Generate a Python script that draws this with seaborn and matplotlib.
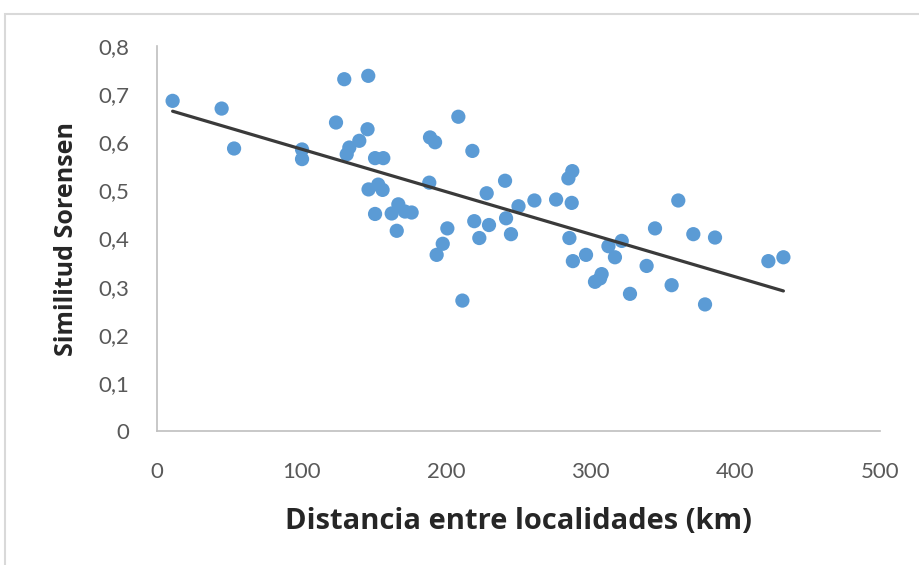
import matplotlib
matplotlib.use("Agg")
import matplotlib.pyplot as plt
import matplotlib.ticker as mticker
from matplotlib.patches import Rectangle
import seaborn as sns
import pandas as pd

distancia_km = [10.8, 44.7, 53.3, 100.3, 100.3, 123.8, 129.5, 131.2, 133.0, 139.9,
                145.6, 146.1, 146.3, 150.8, 156.5, 153.0, 156.0, 150.8, 162.3, 166.9,
                171.5, 176.1, 165.8, 188.3, 188.8, 192.3, 208.4, 218.1, 193.4, 197.6,
                200.8, 211.2, 219.4, 222.9, 229.6, 228.0, 240.7, 241.4, 244.8, 250.0,
                261.0, 276.0, 284.5, 287.2, 286.8, 285.2, 287.6, 296.7, 302.9, 306.4,
                307.5, 312.2, 321.4, 316.7, 327.1, 338.6, 344.4, 355.9, 360.5, 370.9,
                379.0, 385.9, 422.8, 433.2]
similitud = [0.686, 0.670, 0.587, 0.585, 0.565, 0.641, 0.731, 0.575, 0.589, 0.603,
             0.627, 0.738, 0.502, 0.567, 0.567, 0.512, 0.501, 0.451, 0.452, 0.471,
             0.456, 0.454, 0.416, 0.516, 0.610, 0.600, 0.653, 0.582, 0.366, 0.389,
             0.421, 0.271, 0.436, 0.401, 0.428, 0.494, 0.520, 0.442, 0.409, 0.467,
             0.479, 0.481, 0.525, 0.540, 0.474, 0.401, 0.353, 0.366, 0.310, 0.317,
             0.326, 0.384, 0.395, 0.361, 0.285, 0.343, 0.421, 0.303, 0.479, 0.409,
             0.263, 0.402, 0.353, 0.361]
x_ticks = [0, 100, 200, 300, 400, 500]
y_ticks = [0, 0.1, 0.2, 0.3, 0.4, 0.5, 0.6, 0.7, 0.8]
x_label = "Distancia entre localidades (km)"
y_label = "Similitud Sorensen"

df = pd.DataFrame({"d": distancia_km, "s": similitud})

sns.set_style("white")
plt.rcParams["font.family"] = ["Lato", "DejaVu Sans"]

fig = plt.figure(figsize=(9.19, 5.65), dpi=100)
ax = fig.add_axes([157/919, 1-431/565, (880-157)/919, (431-46)/565])

sns.scatterplot(data=df, x="d", y="s", ax=ax, color="#5B9BD5", s=105,
                edgecolor="none", linewidth=0, zorder=2)
sns.regplot(data=df, x="d", y="s", ax=ax, scatter=False, ci=None,
            line_kws={"color": "#3a3a3a", "lw": 2.3, "zorder": 3})

ax.set_xlim(0, 500)
ax.set_ylim(0, 0.8)
ax.set_xticks(x_ticks)
ax.set_yticks(y_ticks)
ax.yaxis.set_major_formatter(mticker.FuncFormatter(
    lambda v, p: "0" if abs(v) < 1e-9 else f"{v:.1f}".replace(".", ",")))
ax.tick_params(axis="both", length=0, labelsize=16, labelcolor="#595959")
ax.tick_params(axis="x", pad=22)
ax.tick_params(axis="y", pad=20)

for side in ["top", "right"]:
    ax.spines[side].set_visible(False)
for side in ["left", "bottom"]:
    ax.spines[side].set_color("#BFBFBF")
    ax.spines[side].set_linewidth(1.2)

ax.set_xlabel(x_label, fontsize=21, fontweight="bold", color="#262626",
              labelpad=18, family=["Open Sans", "DejaVu Sans"])
ax.set_ylabel(y_label, fontsize=18, fontweight="bold", color="#262626",
              labelpad=14, family=["Open Sans", "DejaVu Sans"])

fig.patches.append(Rectangle((5/919, -0.1), 1.2, 1 - 14/565 + 0.1,
                             transform=fig.transFigure, fill=False,
                             edgecolor="#D9D9D9", linewidth=1.5))

fig.savefig("out.png", dpi=100)
